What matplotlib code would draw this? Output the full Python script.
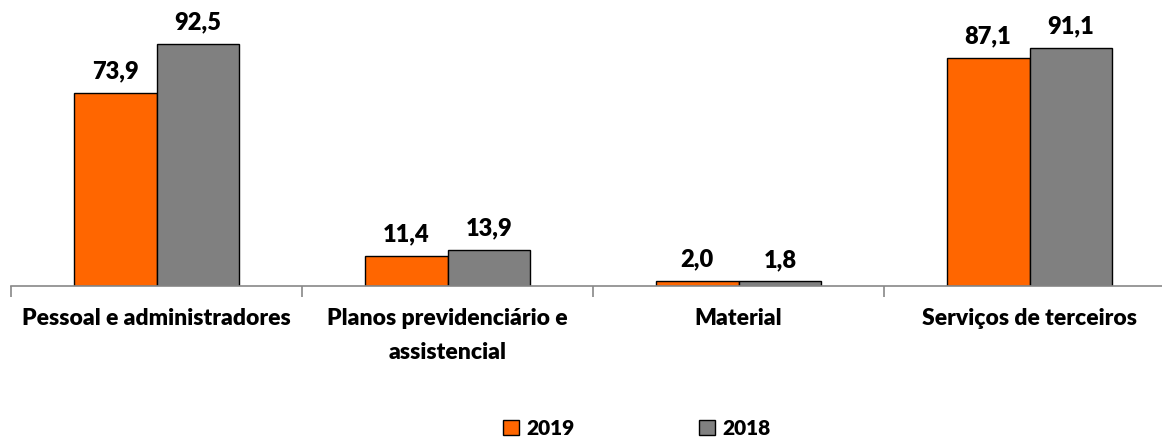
import matplotlib
matplotlib.use("Agg")
import matplotlib.pyplot as plt
import numpy as np

categories = ["Pessoal e administradores", "Planos previdenciário e\nassistencial", "Material", "Serviços de terceiros"]
series_names = ["2019", "2018"]
values_2019 = [73.9, 11.4, 2.0, 87.1]
values_2018 = [92.5, 13.9, 1.8, 91.1]
colors = ["#FF6600", "#808080"]

plt.rcParams['font.family'] = ['Lato', 'DejaVu Sans']
WEIGHT = "heavy"

fig = plt.figure(figsize=(11.62, 4.41), dpi=100)
ax = fig.add_axes([11/1162, 155/441, 1164/1162, 286/441])

x = np.arange(len(categories))
w = 0.285
for i, (vals, name, c) in enumerate(zip([values_2019, values_2018], series_names, colors)):
    off = (i - 0.5) * w
    ax.bar(x + off, vals, width=w, color=c, edgecolor="black", linewidth=1.0, label=name)
    for xi, v in zip(x + off, vals):
        ax.annotate(f"{v:.1f}".replace(".", ","), (xi, v), xytext=(0, 7.5), textcoords="offset points",
                    ha="center", va="bottom", fontsize=17, fontweight=WEIGHT)

ax.set_xlim(-0.5, 3.5)
ax.set_ylim(0, 109.3)
ax.set_yticks([])
for s in ["top", "right", "left"]:
    ax.spines[s].set_visible(False)
ax.spines["bottom"].set_color("#888888")
ax.spines["bottom"].set_linewidth(1.2)
ax.set_xticks([-0.5, 0.5, 1.5, 2.5, 3.5])
ax.set_xticklabels([])
ax.tick_params(axis="x", length=8, color="#888888", width=1.2)
ax.set_xticks(x, minor=True)
labels = ax.set_xticklabels(categories, minor=True, fontsize=16.5, fontweight=WEIGHT, linespacing=1.75)
for t in labels:
    t.set_multialignment("center")
ax.tick_params(axis="x", which="minor", length=0, pad=16)

fig.legend(loc="lower center", bbox_to_anchor=(0.548, -0.035), ncol=2, frameon=False,
           prop={"size": 15, "weight": WEIGHT}, handlelength=0.75, handleheight=0.75,
           handletextpad=0.35, columnspacing=6.0)

fig.savefig("out.png", dpi=100)
